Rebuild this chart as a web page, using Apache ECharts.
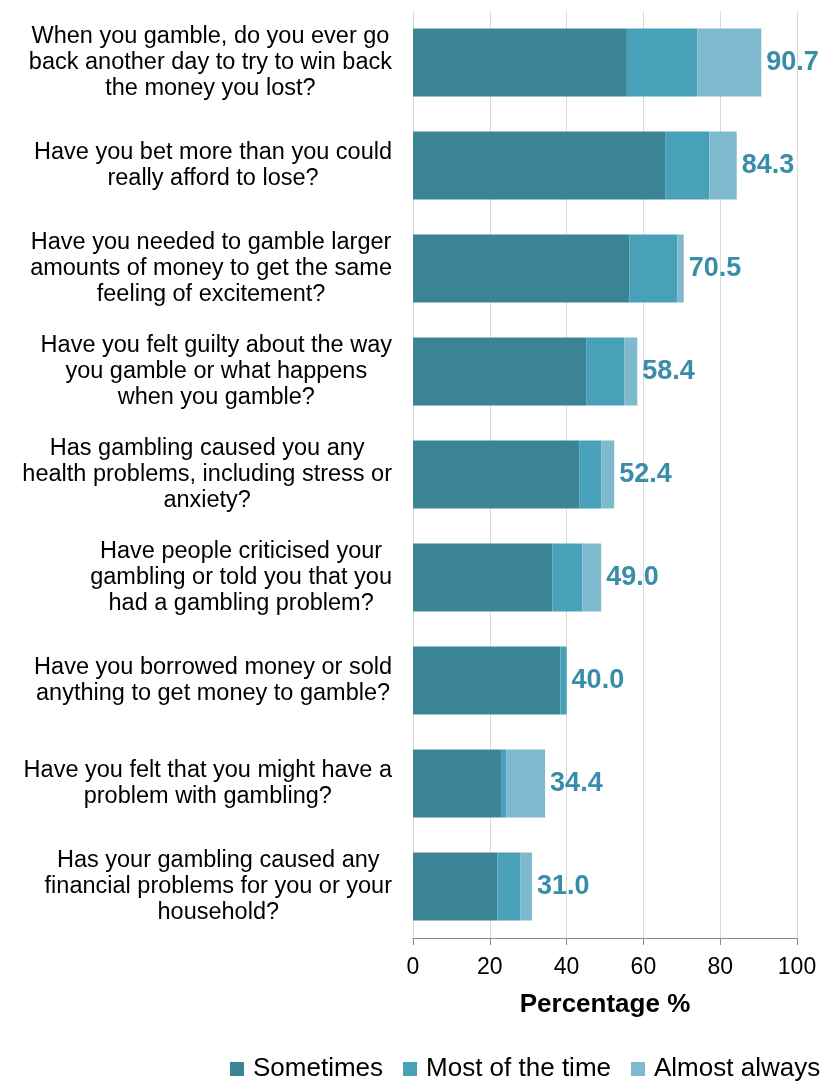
<!DOCTYPE html>
<html>
<head>
<meta charset="utf-8">
<script src="https://cdn.jsdelivr.net/npm/echarts@6/dist/echarts.min.js"></script>
<style>
  html, body { margin: 0; padding: 0; background: #fff; }
  #chart { width: 827px; height: 1081px; }
</style>
</head>
<body>
<div id="chart"></div>
<script>
// Survey questions (top to bottom)
const questions = [
  "When you gamble, do you ever go\nback another day to try to win back\nthe money you lost?",
  "Have you bet more than you could\nreally afford to lose?",
  "Have you needed to gamble larger\namounts of money to get the same\nfeeling of excitement?",
  "Have you felt guilty about the way\nyou gamble or what happens\nwhen you gamble?",
  "Has gambling caused you any\nhealth problems, including stress or\nanxiety?",
  "Have people criticised your\ngambling or told you that you\nhad a gambling problem?",
  "Have you borrowed money or sold\nanything to get money to gamble?",
  "Have you felt that you might have a\nproblem with gambling?",
  "Has your gambling caused any\nfinancial problems for you or your\nhousehold?"
];

// Response shares, percent
const sometimes     = [55.7, 65.8, 56.4, 45.1, 43.4, 36.3, 38.4, 22.9, 22.0];
const mostOfTheTime = [18.4, 11.4, 12.4,  9.9,  5.6,  7.8,  1.6,  1.4,  6.0];
const almostAlways  = [16.6,  7.1,  1.7,  3.4,  3.4,  4.9,  0.0, 10.1,  3.0];

const seriesNames = ["Sometimes", "Most of the time", "Almost always"];
const seriesColors = ["#3A8496", "#48A1B8", "#7EB9CE"];

const axisTicks = [0, 20, 40, 60, 80, 100];

function total(i) {
  return sometimes[i] + mostOfTheTime[i] + almostAlways[i];
}

const chart = echarts.init(document.getElementById('chart'), null, { renderer: 'canvas' });

const font = '"Liberation Sans", Arial, sans-serif';

const seriesData = [sometimes, mostOfTheTime, almostAlways];

const series = seriesData.map((data, k) => ({
  name: seriesNames[k],
  type: 'bar',
  stack: 'all',
  data: data,
  barCategoryGap: '34%',
  itemStyle: { color: seriesColors[k] },
  emphasis: { disabled: true },
  label: k === 2 ? {
    show: true,
    position: 'right',
    distance: 5,
    color: '#388DA8',
    fontFamily: font,
    fontWeight: 'bold',
    fontSize: 27,
    formatter: p => total(p.dataIndex).toFixed(1)
  } : { show: false }
}));

chart.setOption({
  animation: false,
  backgroundColor: '#ffffff',
  grid: { left: 413, right: 30, top: 11, bottom: 143, containLabel: false },
  legend: {
    data: seriesNames,
    left: 230,
    top: 1056,
    padding: 0,
    width: 597,
    icon: 'rect',
    itemWidth: 14,
    itemHeight: 14,
    itemGap: 20,
    textStyle: { fontFamily: font, fontSize: 26, color: '#000', padding: [0, 0, 0, 4] }
  },
  xAxis: {
    type: 'value',
    min: axisTicks[0],
    max: axisTicks[axisTicks.length - 1],
    interval: axisTicks[1] - axisTicks[0],
    name: 'Percentage %',
    nameLocation: 'middle',
    nameGap: 54,
    nameTextStyle: { fontFamily: font, fontSize: 26, fontWeight: 'bold', color: '#000' },
    axisLine: { show: true, lineStyle: { color: '#898989', width: 1 } },
    axisTick: { show: true, length: 7, lineStyle: { color: '#898989' } },
    axisLabel: { fontFamily: font, fontSize: 23, color: '#000', margin: 18 },
    splitLine: { show: true, lineStyle: { color: '#D9D9D9', width: 1 } }
  },
  yAxis: {
    type: 'category',
    data: questions,
    inverse: true,
    axisLine: { show: false },
    axisTick: { show: false },
    splitLine: { show: false },
    axisLabel: {
      margin: 21,
      align: 'right',
      formatter: v => v.split('\n').map(l => '{c|' + l + '}').join('\n'),
      rich: {
        c: { fontFamily: font, fontSize: 23.5, lineHeight: 26, color: '#000', align: 'center' }
      }
    }
  },
  series: series
});
</script>
</body>
</html>
